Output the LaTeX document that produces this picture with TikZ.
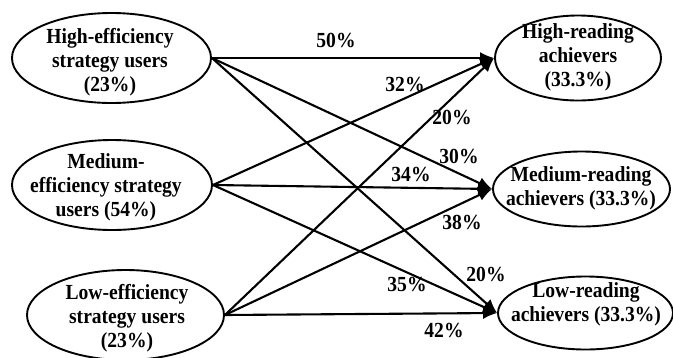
\documentclass[tikz,border=0pt]{standalone}
\usepackage{fontspec}
\setmainfont{Liberation Serif}[FakeStretch=0.91]
\usetikzlibrary{shapes.geometric,arrows.meta}
\begin{document}
\begin{tikzpicture}[x=1pt,y=-1pt,
  oval/.style={draw,ellipse,line width=1.9pt,inner sep=0pt},
  txt/.style={font=\bfseries\fontsize{21.5}{24}\selectfont,align=center,inner sep=0pt},
  pct/.style={font=\bfseries\fontsize{21.5}{24}\selectfont,inner sep=0pt},
  conn/.style={line width=2.1pt,-{Latex[length=14pt,width=12pt]}}]
\useasboundingbox (0,0) rectangle (673,357);
% left ellipses
\node[oval,minimum width=199pt,minimum height=90pt] (he) at (111.5,58) {};
\node[oval,minimum width=200pt,minimum height=90pt] (me) at (112,185) {};
\node[oval,minimum width=197pt,minimum height=90pt] (le) at (125.5,315) {};
% right ellipses
\node[oval,minimum width=166pt,minimum height=85pt] (hr) at (578,58) {};
\node[oval,minimum width=177pt,minimum height=75pt] (mr) at (581.5,189) {};
\node[oval,minimum width=175pt,minimum height=73pt] (lr) at (585.5,313) {};
% texts
\node[txt] (het) at (110,62) {High-efficiency\\strategy users\\(23\%)};
\node[txt] (met) at (106,187) {Medium-\\efficiency strategy\\users (54\%)};
\node[txt] (let) at (127,318) {Low-efficiency\\strategy users\\(23\%)};
\node[txt] (hrt) at (578,57) {High-reading\\achievers\\(33.3\%)};
\node[txt] (mrt) at (581,188) {Medium-reading\\achievers (33.3\%)};
\node[txt] (lrt) at (586,304) {Low-reading\\achievers (33.3\%)};
% connectors
\draw[conn] (he.east) -- (hr.west);
\draw[conn] (he.east) -- (mr.west);
\draw[conn] (he.east) -- (lr.west);
\draw[conn] (me.east) -- (hr.west);
\draw[conn] (me.east) -- (mr.west);
\draw[conn] (me.east) -- (lr.west);
\draw[conn] (le.east) -- (hr.west);
\draw[conn] (le.east) -- (mr.west);
\draw[conn] (le.east) -- (lr.west);
% percentages
\node[pct] (p1) at (336,40) {50\%};
\node[pct] (p2) at (405,84) {32\%};
\node[pct] (p3) at (452,117) {20\%};
\node[pct] (p4) at (459,156) {30\%};
\node[pct] (p5) at (411,174) {34\%};
\node[pct] (p6) at (462,222) {38\%};
\node[pct] (p7) at (486,274) {20\%};
\node[pct] (p8) at (407,284) {35\%};
\node[pct] (p9) at (444,330) {42\%};
\end{tikzpicture}
\end{document}
